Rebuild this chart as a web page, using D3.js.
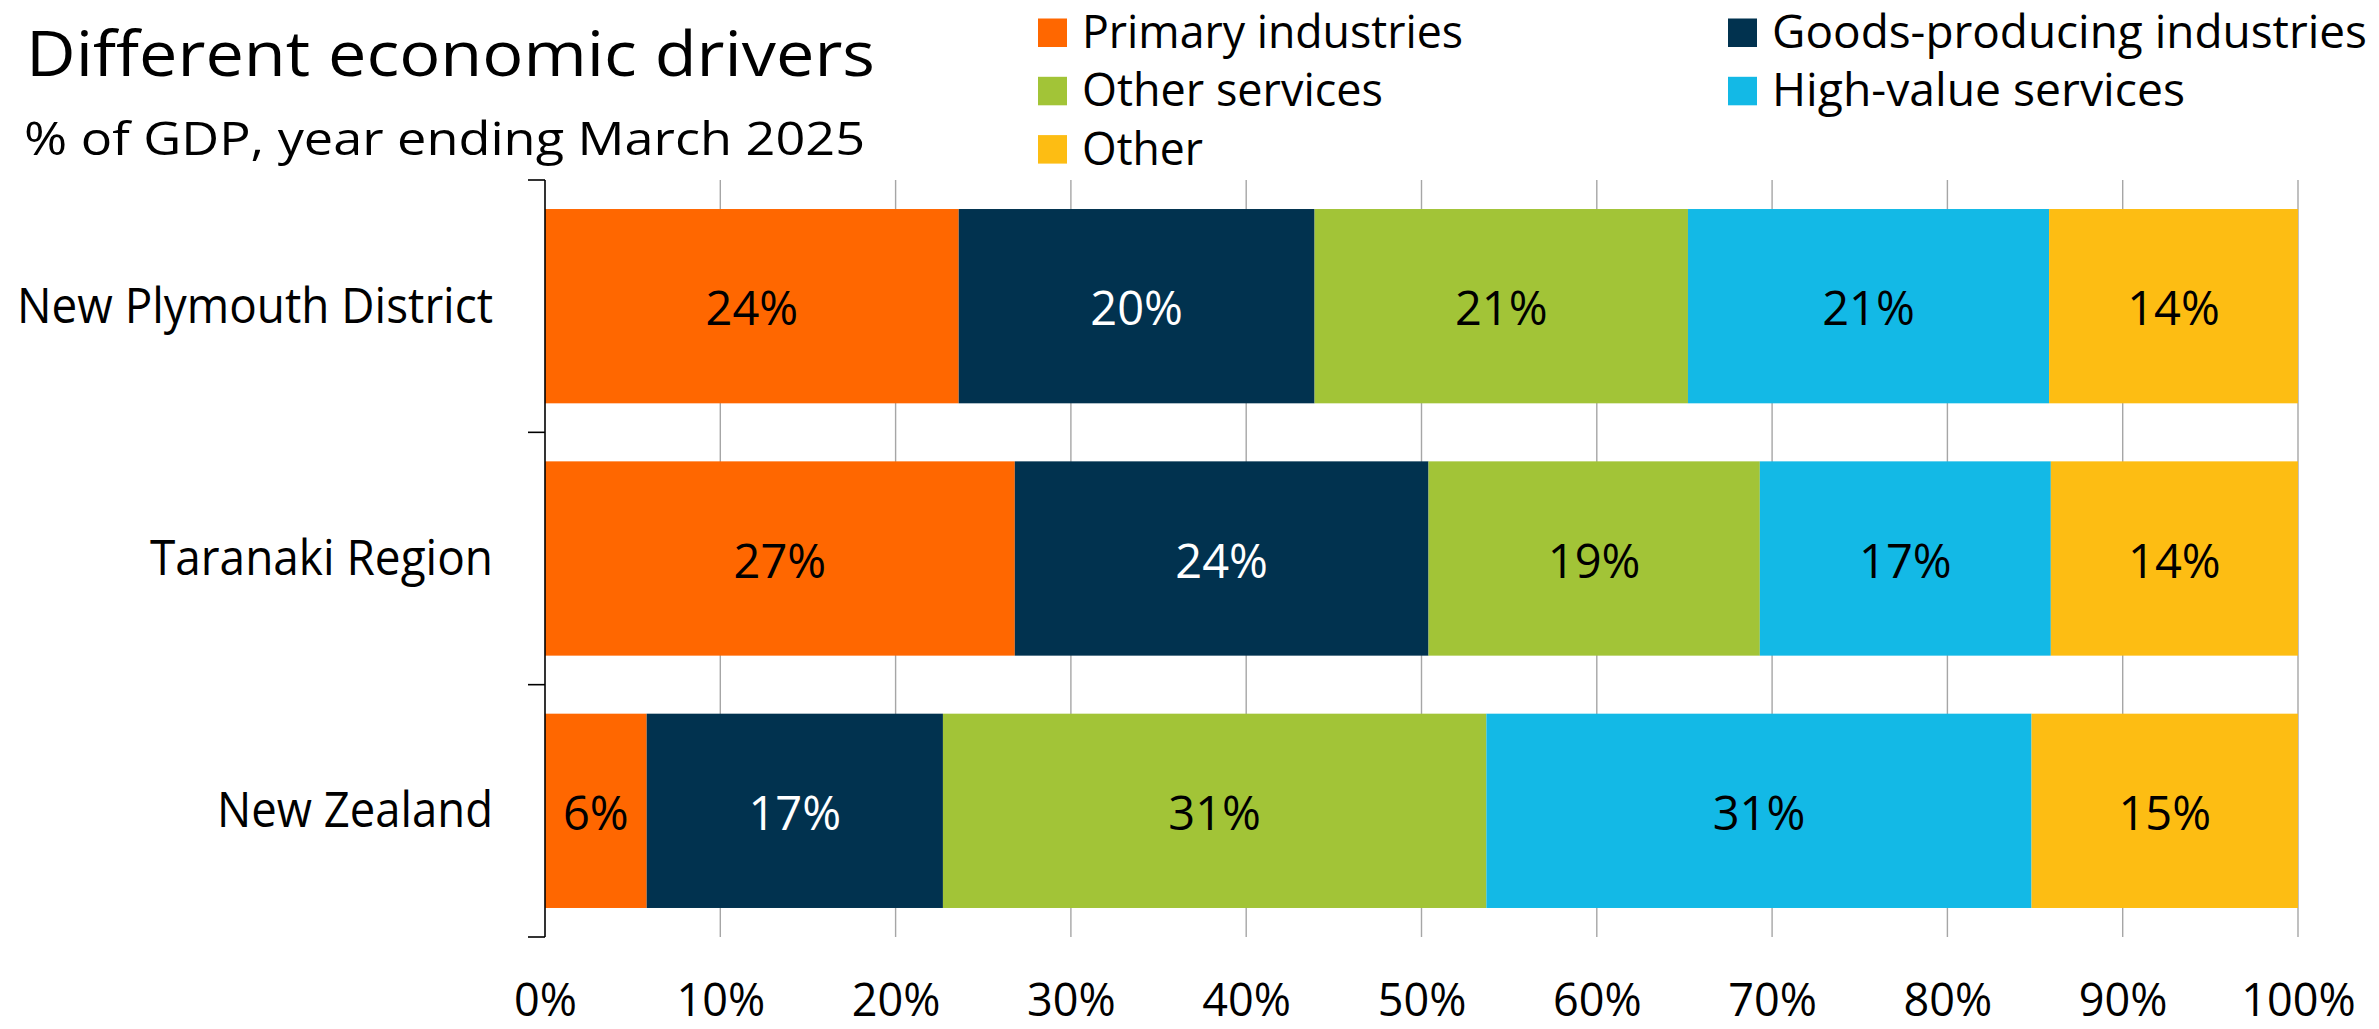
<!DOCTYPE html>
<html>
<head>
<meta charset="utf-8">
<script src="https://cdn.jsdelivr.net/npm/d3@7"></script>
<style>
  html, body { margin: 0; padding: 0; background: #ffffff; }
  svg { display: block; font-family: "Open Sans", "Noto Sans", sans-serif; }
</style>
</head>
<body>
<svg id="chart" width="2379" height="1029"></svg>
<script>
// ---- data ----
const categories = ["New Plymouth District", "Taranaki Region", "New Zealand"];
const seriesNames = ["Primary industries", "Goods-producing industries", "Other services", "High-value services", "Other"];
const primaryIndustries = [23.6, 26.8, 5.8];
const goodsProducing    = [20.3, 23.6, 16.9];
const otherServices     = [21.3, 18.9, 31.0];
const highValueServices = [20.6, 16.6, 31.1];
const otherShare        = [14.2, 14.1, 15.2];
const xTicks = [0, 10, 20, 30, 40, 50, 60, 70, 80, 90, 100];
const titleText = "Different economic drivers";
const subtitleText = "% of GDP, year ending March 2025";

// ---- styles ----
const colors = ["#ff6700", "#01324f", "#a2c437", "#13b9e6", "#fdbd13"];
const labelColors = ["#000000", "#ffffff", "#000000", "#000000", "#000000"];

const seriesValues = [primaryIndustries, goodsProducing, otherServices, highValueServices, otherShare];
const rows = categories.map((c, i) => {
  const r = { category: c };
  seriesNames.forEach((s, j) => { r[s] = seriesValues[j][i]; });
  return r;
});
const stacked = d3.stack().keys(seriesNames)(rows);

const svg = d3.select("#chart");

const x = d3.scaleLinear().domain([0, 100]).range([545, 2298]);
const y = d3.scaleBand().domain(categories).range([180, 937])
  .paddingInner(0.23).paddingOuter(0.115);

// gridlines
svg.append("g").selectAll("line")
  .data(xTicks.filter(t => t > 0))
  .join("line")
  .attr("x1", d => x(d)).attr("x2", d => x(d))
  .attr("y1", y.range()[0]).attr("y2", y.range()[1])
  .attr("stroke", "#a6a6a6").attr("stroke-width", 1.4);

// bars
const layer = svg.append("g").selectAll("g")
  .data(stacked)
  .join("g")
  .attr("fill", (d, i) => colors[i]);

layer.selectAll("rect")
  .data(d => d.map(v => ({ v, key: d.key })))
  .join("rect")
  .attr("x", d => x(d.v[0]))
  .attr("width", d => x(d.v[1]) - x(d.v[0]))
  .attr("y", d => y(d.v.data.category))
  .attr("height", y.bandwidth());

// data labels
const fmt = d => d3.format(".0f")(d) + "%";
stacked.forEach((s, i) => {
  svg.append("g").selectAll("text")
    .data(s)
    .join("text")
    .attr("x", d => (x(d[0]) + x(d[1])) / 2)
    .attr("y", d => y(d.data.category) + y.bandwidth() / 2 + 19)
    .attr("text-anchor", "middle")
    .attr("font-size", 47)
    .attr("fill", labelColors[i])
    .text(d => fmt(d[1] - d[0]));
});

// left axis line with boundary ticks
const y0 = y.range()[0], y1 = y.range()[1];
svg.append("line")
  .attr("x1", x(0)).attr("x2", x(0))
  .attr("y1", y0).attr("y2", y1)
  .attr("stroke", "#000").attr("stroke-width", 1.6);
const bounds = d3.range(categories.length + 1).map(i => y0 + i * (y1 - y0) / categories.length);
svg.append("g").selectAll("line")
  .data(bounds)
  .join("line")
  .attr("x1", x(0) - 17).attr("x2", x(0))
  .attr("y1", d => d).attr("y2", d => d)
  .attr("stroke", "#000").attr("stroke-width", 1.6);

// category labels
const catWidths = { "New Plymouth District": 476, "Taranaki Region": 343, "New Zealand": 276 };
svg.append("g").selectAll("text")
  .data(categories)
  .join("text")
  .attr("x", 493)
  .attr("y", d => y(d) + y.bandwidth() / 2 + 16.5)
  .attr("text-anchor", "end")
  .attr("font-size", 49)
  .attr("fill", "#000")
  .attr("textLength", d => catWidths[d])
  .attr("lengthAdjust", "spacingAndGlyphs")
  .text(d => d);

// bottom axis (tick labels)
const xAxis = d3.axisBottom(x)
  .tickValues(xTicks)
  .tickSize(0)
  .tickPadding(47)
  .tickFormat(d => d + "%");
const gx = svg.append("g").attr("transform", `translate(0,${y1})`).call(xAxis);
gx.select(".domain").remove();
gx.selectAll("text")
  .attr("font-size", 45)
  .attr("font-family", "'Open Sans', 'Noto Sans', sans-serif")
  .attr("fill", "#000");

// title & subtitle
svg.append("text")
  .attr("x", 26).attr("y", 76)
  .attr("font-size", 62)
  .attr("fill", "#000")
  .attr("textLength", 849)
  .attr("lengthAdjust", "spacingAndGlyphs")
  .text(titleText);
svg.append("text")
  .attr("x", 24).attr("y", 155)
  .attr("font-size", 45)
  .attr("fill", "#000")
  .attr("textLength", 841)
  .attr("lengthAdjust", "spacingAndGlyphs")
  .text(subtitleText);

// legend
const legendWidths = [381, 595, 301, 413, 121];
const legend = svg.append("g").selectAll("g")
  .data(seriesNames)
  .join("g")
  .attr("transform", (d, i) => `translate(${i % 2 === 0 ? 1038 : 1728},${18.5 + Math.floor(i / 2) * 58.3})`);
legend.append("rect")
  .attr("width", 29).attr("height", 28.5)
  .attr("fill", (d, i) => colors[i]);
legend.append("text")
  .attr("x", 44).attr("y", 29.5)
  .attr("font-size", 45)
  .attr("fill", "#000")
  .attr("textLength", (d, i) => legendWidths[i])
  .attr("lengthAdjust", "spacingAndGlyphs")
  .text(d => d);
</script>
</body>
</html>
